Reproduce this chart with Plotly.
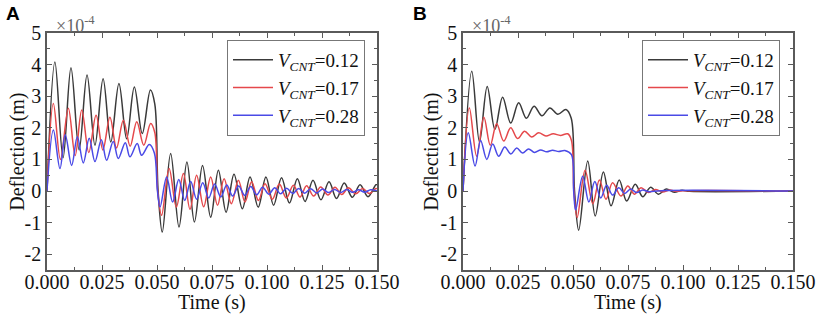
import plotly.graph_objects as go

# ---------------- data (deflection in units of 1e-4 m) ----------------
# Panel A
tA_012 = [0, 0.0036, 0.0073, 0.0109, 0.0146, 0.0182, 0.0218, 0.0255, 0.0290, 0.0327, 0.0362,
          0.0397, 0.0433, 0.0470, 0.0490, 0.0505, 0.0524, 0.0562, 0.0600, 0.0636, 0.0670,
          0.0707, 0.0744, 0.0779, 0.0814, 0.0850, 0.0888, 0.0923, 0.0960, 0.0995, 0.1030,
          0.1066, 0.1102, 0.1138, 0.1173, 0.1209, 0.1245, 0.1282, 0.1316, 0.1351, 0.1388,
          0.1423, 0.1459, 0.1495, 0.1500]
dA_012 = [0, 4.08, 1.05, 3.90, 1.30, 3.67, 1.45, 3.55, 1.55, 3.40, 1.65,
          3.29, 1.82, 3.20, 2.75, 0.00, -1.30, 1.19, -1.14, 0.92, -0.98,
          0.81, -0.83, 0.66, -0.67, 0.53, -0.56, 0.44, -0.51, 0.44, -0.45,
          0.42, -0.38, 0.39, -0.33, 0.34, -0.28, 0.29, -0.24, 0.25, -0.20,
          0.20, -0.18, 0.20, 0.19]

tA_017 = [0, 0.0029, 0.0061, 0.0097, 0.0128, 0.0158, 0.0190, 0.0223, 0.0254, 0.0286, 0.0316,
          0.0347, 0.0378, 0.0408, 0.0440, 0.0471, 0.0490, 0.0503, 0.0521, 0.0555, 0.0588,
          0.0620, 0.0650, 0.0680, 0.0712, 0.0744, 0.0775, 0.0805, 0.0838, 0.0870, 0.0900,
          0.0930, 0.0961, 0.0991, 0.1024, 0.1056, 0.1088, 0.1120, 0.1150, 0.1180, 0.1212,
          0.1244, 0.1277, 0.1309, 0.1340, 0.1370, 0.1403, 0.1435, 0.1465, 0.1495, 0.1500]
dA_017 = [0, 2.77, 1.00, 2.62, 1.12, 2.56, 1.22, 2.40, 1.30, 2.33, 1.36,
          2.24, 1.42, 2.19, 1.45, 2.14, 1.85, 0.00, -0.77, 0.71, -0.51,
          0.55, -0.58, 0.50, -0.50, 0.44, -0.45, 0.39, -0.40, 0.34, -0.35,
          0.29, -0.30, 0.23, -0.26, 0.22, -0.22, 0.18, -0.19, 0.17, -0.16,
          0.13, -0.13, 0.12, -0.11, 0.10, -0.09, 0.08, -0.08, 0.08, 0.07]

tA_028 = [0, 0.0029, 0.0059, 0.0083, 0.0112, 0.0138, 0.0165, 0.0192, 0.0218, 0.0247, 0.0271,
          0.0301, 0.0324, 0.0356, 0.0377, 0.0410, 0.0430, 0.0465, 0.0488, 0.0502, 0.0514,
          0.0544, 0.0571, 0.0599, 0.0626, 0.0653, 0.0680, 0.0708, 0.0735, 0.0762, 0.0790,
          0.0817, 0.0844, 0.0871, 0.0899, 0.0926, 0.0953, 0.0980, 0.1008, 0.1035, 0.1062,
          0.1089, 0.1117, 0.1144, 0.1171, 0.1198, 0.1226, 0.1253, 0.1280, 0.1307, 0.1335,
          0.1362, 0.1389, 0.1416, 0.1444, 0.1471, 0.1500]
dA_028 = [0, 1.93, 0.71, 1.78, 0.81, 1.72, 0.89, 1.67, 0.93, 1.62, 0.97,
          1.57, 1.03, 1.53, 1.08, 1.50, 1.13, 1.47, 1.20, 0.00, -0.51,
          0.44, -0.35, 0.36, -0.30, 0.30, -0.26, 0.26, -0.22, 0.22, -0.19,
          0.19, -0.16, 0.16, -0.14, 0.14, -0.12, 0.12, -0.10, 0.10, -0.09,
          0.09, -0.08, 0.08, -0.07, 0.07, -0.06, 0.06, -0.05, 0.05, -0.05,
          0.05, -0.04, 0.04, -0.04, 0.04, 0.00]

# Panel B
tB_012 = [0, 0.0040, 0.0075, 0.0110, 0.0145, 0.0180, 0.0217, 0.0253, 0.0288, 0.0323, 0.0359,
          0.0395, 0.0431, 0.0468, 0.0492, 0.0507, 0.0526, 0.0567, 0.0601, 0.0638, 0.0673,
          0.0710, 0.0744, 0.0783, 0.0817, 0.0853, 0.0888, 0.0924, 0.0960, 0.0995, 0.1030,
          0.1500]
dB_012 = [0, 3.79, 1.55, 3.31, 1.95, 2.97, 2.15, 2.79, 2.30, 2.68, 2.38,
          2.63, 2.43, 2.58, 2.30, 0.00, -1.24, 0.95, -0.79, 0.60, -0.47,
          0.35, -0.32, 0.21, -0.18, 0.12, -0.10, 0.06, -0.04, 0.02, -0.01,
          0.00]

tB_017 = [0, 0.0029, 0.0062, 0.0095, 0.0124, 0.0153, 0.0185, 0.0217, 0.0248, 0.0280, 0.0312,
          0.0344, 0.0377, 0.0410, 0.0443, 0.0476, 0.0493, 0.0504, 0.0519, 0.0555, 0.0590,
          0.0620, 0.0650, 0.0680, 0.0718, 0.0749, 0.0779, 0.0809, 0.0844, 0.0874, 0.0907,
          0.0940, 0.0970, 0.1000, 0.1500]
dB_017 = [0, 2.63, 1.10, 2.33, 1.45, 2.13, 1.58, 2.00, 1.66, 1.89, 1.71,
          1.84, 1.74, 1.81, 1.76, 1.81, 1.60, 0.00, -0.84, 0.66, -0.40,
          0.35, -0.26, 0.26, -0.16, 0.16, -0.10, 0.10, -0.05, 0.05, -0.03,
          0.03, -0.01, 0.01, 0.00]

tB_028 = [0, 0.0024, 0.0055, 0.0080, 0.0108, 0.0135, 0.0162, 0.0190, 0.0217, 0.0244, 0.0271,
          0.0298, 0.0325, 0.0353, 0.0380, 0.0407, 0.0435, 0.0463, 0.0493, 0.0503, 0.0512,
          0.0544, 0.0572, 0.0599, 0.0626, 0.0653, 0.0680, 0.0708, 0.0735, 0.0762, 0.0790,
          0.0817, 0.0844, 0.0900, 0.1500]
dB_028 = [0, 1.84, 0.79, 1.60, 1.00, 1.49, 1.10, 1.39, 1.17, 1.36, 1.20,
          1.33, 1.22, 1.30, 1.24, 1.29, 1.25, 1.28, 1.15, 0.00, -0.60,
          0.47, -0.35, 0.30, -0.22, 0.18, -0.13, 0.10, -0.08, 0.06, -0.05,
          0.03, -0.02, 0.01, 0.00]

series_names = ["<i>V</i><sub><i>CNT</i></sub>=0.12",
                "<i>V</i><sub><i>CNT</i></sub>=0.17",
                "<i>V</i><sub><i>CNT</i></sub>=0.28"]
colors = ["#3a3a3a", "#e5484b", "#4a4ae6"]

x_ticks = [0, 0.025, 0.05, 0.075, 0.1, 0.125, 0.15]
x_ticktext = ["0.000", "0.025", "0.050", "0.075", "0.100", "0.125", "0.150"]
y_ticks = [-2, -1, 0, 1, 2, 3, 4, 5]
y_ticktext = ["-2", "-1", "0", "1", "2", "3", "4", "5"]

# ---------------- figure ----------------
FONT = "Liberation Serif, Times New Roman, serif"
fig = go.Figure()

panelA = [(tA_012, dA_012), (tA_017, dA_017), (tA_028, dA_028)]
panelB = [(tB_012, dB_012), (tB_017, dB_017), (tB_028, dB_028)]

for i, (t, d) in enumerate(panelA):
    fig.add_trace(go.Scatter(x=t, y=d, mode="lines", name=series_names[i],
                             line=dict(color=colors[i], width=1.5, shape="spline", smoothing=1.0),
                             xaxis="x", yaxis="y", legend="legend"))
for i, (t, d) in enumerate(panelB):
    fig.add_trace(go.Scatter(x=t, y=d, mode="lines", name=series_names[i],
                             line=dict(color=colors[i], width=1.5, shape="spline", smoothing=1.0),
                             xaxis="x2", yaxis="y2", legend="legend2"))

W, H = 816, 317
L, T = 47, 33
R = W - 793
B = H - 270.5
pw = W - L - R
ph = H - T - B

def px_x(xs):   # screen x -> paper x
    return (xs - L) / pw
def px_y(ys):   # screen y -> paper y
    return 1 - (ys - T) / ph

domA = [0, px_x(377)]
domB = [px_x(463), 1]

axis_line = "#5a5a5a"
TICKFONT = dict(family=FONT, size=20, color="#111")
def xaxis(dom, anchor):
    return dict(domain=dom, anchor=anchor, range=[0, 0.15], tickvals=x_ticks, ticktext=x_ticktext,
                ticks="inside", ticklen=5, tickwidth=1, tickcolor=axis_line, ticklabelstandoff=-7,
                minor=dict(dtick=0.0125, tick0=0, ticks="inside", ticklen=3, tickcolor=axis_line),
                showline=True, linecolor=axis_line, linewidth=1.5, mirror="ticks",
                showgrid=False, zeroline=False, tickfont=TICKFONT)

def yaxis(anchor):
    return dict(domain=[0, 1], anchor=anchor, range=[-2.5, 5], tickvals=y_ticks, ticktext=y_ticktext,
                ticks="inside", ticklen=5, tickwidth=1, tickcolor=axis_line,
                minor=dict(dtick=0.5, tick0=0, ticks="inside", ticklen=3, tickcolor=axis_line),
                showline=True, linecolor=axis_line, linewidth=1.5, mirror="ticks",
                showgrid=False, zeroline=False, tickfont=TICKFONT)

legend_common = dict(font=dict(family=FONT, size=19, color="#111"), bgcolor="white",
                     bordercolor="#777", borderwidth=1, xanchor="left", yanchor="top",
                     tracegroupgap=0, itemwidth=40)

TITLEFONT = dict(family=FONT, size=20, color="#111")
annotations = [
    dict(text="<b>A</b>", xref="paper", yref="paper", x=px_x(4), y=px_y(13),
         xanchor="left", yanchor="middle", showarrow=False,
         font=dict(family="Liberation Sans, Arial", size=19, color="black")),
    dict(text="<b>B</b>", xref="paper", yref="paper", x=px_x(411), y=px_y(13),
         xanchor="left", yanchor="middle", showarrow=False,
         font=dict(family="Liberation Sans, Arial", size=19, color="black")),
    dict(text="×10<sup>-4</sup>", xref="paper", yref="paper", x=px_x(54), y=px_y(24),
         xanchor="left", yanchor="middle", showarrow=False,
         font=dict(family=FONT, size=18, color="#666")),
    dict(text="×10<sup>-4</sup>", xref="paper", yref="paper", x=px_x(470), y=px_y(24),
         xanchor="left", yanchor="middle", showarrow=False,
         font=dict(family=FONT, size=18, color="#666")),
    dict(text="Deflection (m)", xref="paper", yref="paper", x=px_x(18), y=px_y(152),
         xanchor="center", yanchor="middle", textangle=-90, showarrow=False, font=TITLEFONT),
    dict(text="Deflection (m)", xref="paper", yref="paper", x=px_x(432), y=px_y(152),
         xanchor="center", yanchor="middle", textangle=-90, showarrow=False, font=TITLEFONT),
    dict(text="Time (s)", xref="paper", yref="paper", x=px_x(212), y=px_y(303),
         xanchor="center", yanchor="middle", showarrow=False, font=TITLEFONT),
    dict(text="Time (s)", xref="paper", yref="paper", x=px_x(628), y=px_y(303),
         xanchor="center", yanchor="middle", showarrow=False, font=TITLEFONT),
]

fig.update_layout(
    width=W, height=H, margin=dict(l=L, r=R, t=T, b=B, autoexpand=False),
    paper_bgcolor="white", plot_bgcolor="white",
    xaxis=xaxis(domA, "y"), yaxis=yaxis("x"),
    xaxis2=xaxis(domB, "y2"), yaxis2=yaxis("x2"),
    legend=dict(x=px_x(227), y=px_y(40), **legend_common),
    legend2=dict(x=px_x(642), y=px_y(40), **legend_common),
    annotations=annotations,
)

# Put the figure flush with the window's corner (remove the page's default body margin).
fig.write_html("out.html", config={"displayModeBar": False},
               post_script="document.body.style.margin='0px';document.body.style.overflow='hidden';")
